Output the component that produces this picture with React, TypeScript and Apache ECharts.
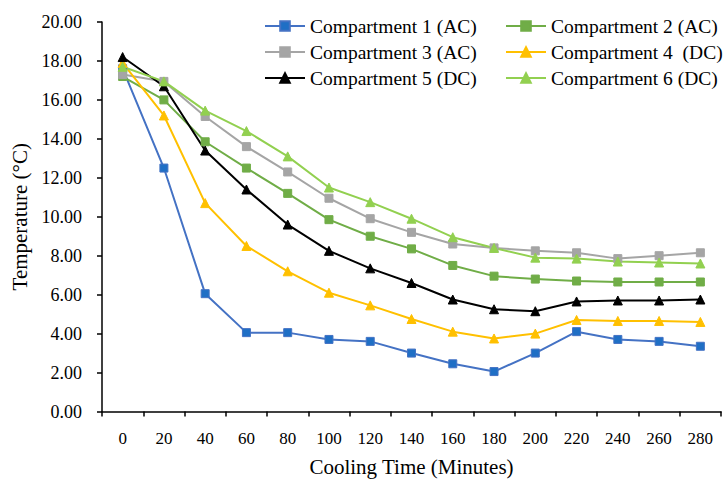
import React, { useEffect, useRef } from "react";
import * as echarts from "echarts";

const categories = ["0", "20", "40", "60", "80", "100", "120", "140", "160", "180", "200", "220", "240", "260", "280"];
const comp1 = [17.6, 12.5, 6.05, 4.05, 4.05, 3.7, 3.6, 3.0, 2.45, 2.05, 3.0, 4.1, 3.7, 3.6, 3.35];
const comp2 = [17.2, 16.0, 13.85, 12.5, 11.2, 9.85, 9.0, 8.35, 7.5, 6.95, 6.8, 6.7, 6.65, 6.65, 6.65];
const comp3 = [17.3, 16.95, 15.15, 13.6, 12.3, 10.95, 9.9, 9.2, 8.6, 8.4, 8.25, 8.15, 7.85, 8.0, 8.15];
const comp4 = [17.9, 15.2, 10.7, 8.5, 7.2, 6.1, 5.45, 4.75, 4.1, 3.75, 4.0, 4.7, 4.65, 4.65, 4.6];
const comp5 = [18.2, 16.7, 13.4, 11.4, 9.6, 8.25, 7.35, 6.6, 5.75, 5.25, 5.15, 5.65, 5.7, 5.7, 5.75];
const comp6 = [17.7, 16.95, 15.45, 14.4, 13.1, 11.5, 10.75, 9.9, 8.95, 8.4, 7.9, 7.85, 7.7, 7.65, 7.6];

const names = [
  "Compartment 1 (AC)",
  "Compartment 2 (AC)",
  "Compartment 3 (AC)",
  "Compartment 4  (DC)",
  "Compartment 5 (DC)",
  "Compartment 6 (DC)",
];

const FONT = "Liberation Serif";
const font = (size: number) => ({ fontFamily: FONT, fontSize: size, fontStyle: "normal", fontWeight: "normal", color: "#000" });

export default function App() {
  const ref = useRef<HTMLDivElement>(null);
  useEffect(() => {
    if (!ref.current) return;
    const chart = echarts.init(ref.current, undefined, { renderer: "svg" });
    const mk = (name: string, data: number[], line: string, fill: string, symbol: string, size: number) => ({
      name,
      type: "line",
      data,
      symbol,
      symbolSize: size,
      lineStyle: { color: line, width: 2 },
      itemStyle: { color: fill, borderColor: line, borderWidth: 1 },
    });
    const legendBase = () => ({
      orient: "vertical",
      top: 16,
      padding: 0,
      itemWidth: 40,
      itemHeight: 12,
      itemGap: 6,
      textStyle: font(19.5),
    });
    chart.setOption({
      animation: false,
      legend: [
        { ...legendBase(), left: 264, data: [names[0], names[2], names[4]] },
        { ...legendBase(), left: 505, data: [names[1], names[3], names[5]] },
      ],
      grid: { left: 102, right: 5, top: 22, bottom: 70.5, containLabel: false, outerBoundsMode: "none" },
      xAxis: {
        type: "category",
        data: categories,
        boundaryGap: true,
        name: "Cooling Time (Minutes)",
        nameLocation: "middle",
        nameGap: 45,
        nameTextStyle: font(21),
        axisLine: { lineStyle: { color: "#000", width: 1.5 } },
        axisTick: { show: true, inside: false, length: 5, interval: 0, lineStyle: { color: "#000", width: 1.5 } },
        axisLabel: { interval: 0, margin: 18, ...font(17) },
        splitLine: { show: false },
      },
      yAxis: {
        type: "value",
        min: 0,
        max: 20,
        interval: 2,
        name: "Temperature (°C)",
        nameLocation: "middle",
        nameGap: 69,
        nameTextStyle: font(21),
        axisLine: { show: true, lineStyle: { color: "#000", width: 1.5 } },
        axisTick: { show: true, inside: false, length: 5, lineStyle: { color: "#000", width: 1.5 } },
        axisLabel: { margin: 20, ...font(18), formatter: (v: number) => v.toFixed(2) },
        splitLine: { show: false },
      },
      series: [
        mk(names[0], comp1, "#4472C4", "#1F6FC5", "rect", 8),
        mk(names[1], comp2, "#70AD47", "#70AD47", "rect", 8),
        mk(names[2], comp3, "#A5A5A5", "#A5A5A5", "rect", 8),
        mk(names[3], comp4, "#FFC000", "#FFC000", "triangle", 9),
        mk(names[4], comp5, "#000000", "#000000", "triangle", 9),
        mk(names[5], comp6, "#92D050", "#92D050", "triangle", 9),
      ],
    });
    return () => chart.dispose();
  }, []);
  return <div ref={ref} style={{ position: "fixed", left: 0, top: 0, width: 726, height: 482, background: "#fff" }} />;
}
